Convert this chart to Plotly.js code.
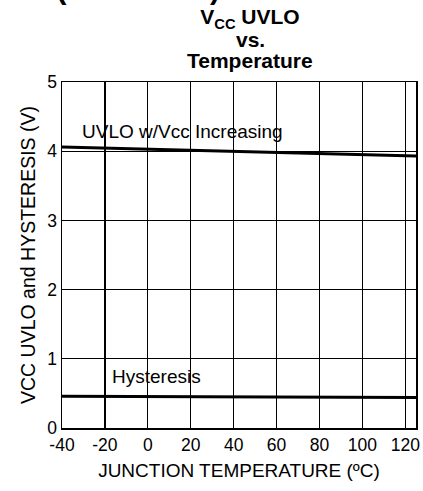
<!DOCTYPE html>
<html>
<head>
<meta charset="utf-8">
<script src="https://cdn.plot.ly/plotly-3.0.1.min.js"></script>
<style>html,body{margin:0;padding:0;background:#fff;}#chart{width:423px;height:491px;}</style>
</head>
<body>
<div id="chart"></div>
<script>
const temperature = [-40, -20, 0, 20, 40, 60, 80, 100, 125];
const uvloIncreasing = [4.06, 4.045, 4.03, 4.015, 4.00, 3.98, 3.96, 3.945, 3.93];
const hysteresis = [0.46, 0.458, 0.455, 0.452, 0.45, 0.447, 0.445, 0.443, 0.44];
const xTicks = [-40, -20, 0, 20, 40, 60, 80, 100, 120];
const yTicks = [0, 1, 2, 3, 4, 5];

const font = 'Liberation Sans, Arial, sans-serif';
const traces = [
  {x: temperature, y: uvloIncreasing, mode: 'lines', line: {color: '#000', width: 3}, hoverinfo: 'skip'},
  {x: temperature, y: hysteresis, mode: 'lines', line: {color: '#000', width: 3}, hoverinfo: 'skip'}
];
// paper coords helpers (plot area: 354 x 346 px, origin at left 62, top 82)
const px = v => (v - 62) / 354;
const py = v => (428 - v) / 346;
const layout = {
  width: 423, height: 491,
  margin: {l: 62, r: 7, t: 82, b: 63},
  showlegend: false,
  paper_bgcolor: '#fff', plot_bgcolor: '#fff',
  font: {family: font, color: '#000', size: 17.5},
  title: {text: '<b>V<sub>CC</sub> UVLO</b>', font: {family: font, size: 21, color: '#000'},
          xref: 'paper', x: px(250), xanchor: 'center', yref: 'container', y: 1 - 17 / 491, yanchor: 'middle'},
  xaxis: {range: [-40, 125], tickvals: xTicks, ticktext: xTicks.map(String), showgrid: true, gridcolor: '#000', gridwidth: 1.2,
          zeroline: false, showline: true, linecolor: '#000', linewidth: 1.5, mirror: true, ticks: '',
          tickfont: {size: 17.5}, title: {text: 'JUNCTION TEMPERATURE (ºC)', font: {size: 19}, standoff: 10}},
  yaxis: {range: [0, 5], tickvals: yTicks, showgrid: true, gridcolor: '#000', gridwidth: 1.2,
          zeroline: false, showline: true, linecolor: '#000', linewidth: 1.5, mirror: true, ticks: '',
          tickfont: {size: 17.5}, title: {text: 'VCC UVLO and HYSTERESIS (V)', font: {size: 19.5}, standoff: 6}},
  annotations: [
    {xref: 'paper', yref: 'paper', x: px(250), y: py(39), xanchor: 'center', yanchor: 'middle',
     text: '<b>vs.</b>', showarrow: false, font: {size: 21}},
    {xref: 'paper', yref: 'paper', x: px(250), y: py(60), xanchor: 'center', yanchor: 'middle',
     text: '<b>Temperature</b>', showarrow: false, font: {size: 21}},
    {x: -31.5, y: 4.29, xref: 'x', yref: 'y', text: 'UVLO w/Vcc Increasing', showarrow: false, xanchor: 'left', font: {size: 19}},
    {x: -17.5, y: 0.75, xref: 'x', yref: 'y', text: 'Hysteresis', showarrow: false, xanchor: 'left', font: {size: 19}},
    {xref: 'paper', yref: 'paper', x: 0.452, y: 1.216, xanchor: 'right', yanchor: 'bottom',
     text: '<b>Typical Characteristics (continued)</b>', showarrow: false, font: {size: 30}}
  ]
};
Plotly.newPlot('chart', traces, layout, {staticPlot: true});
</script>
</body>
</html>
